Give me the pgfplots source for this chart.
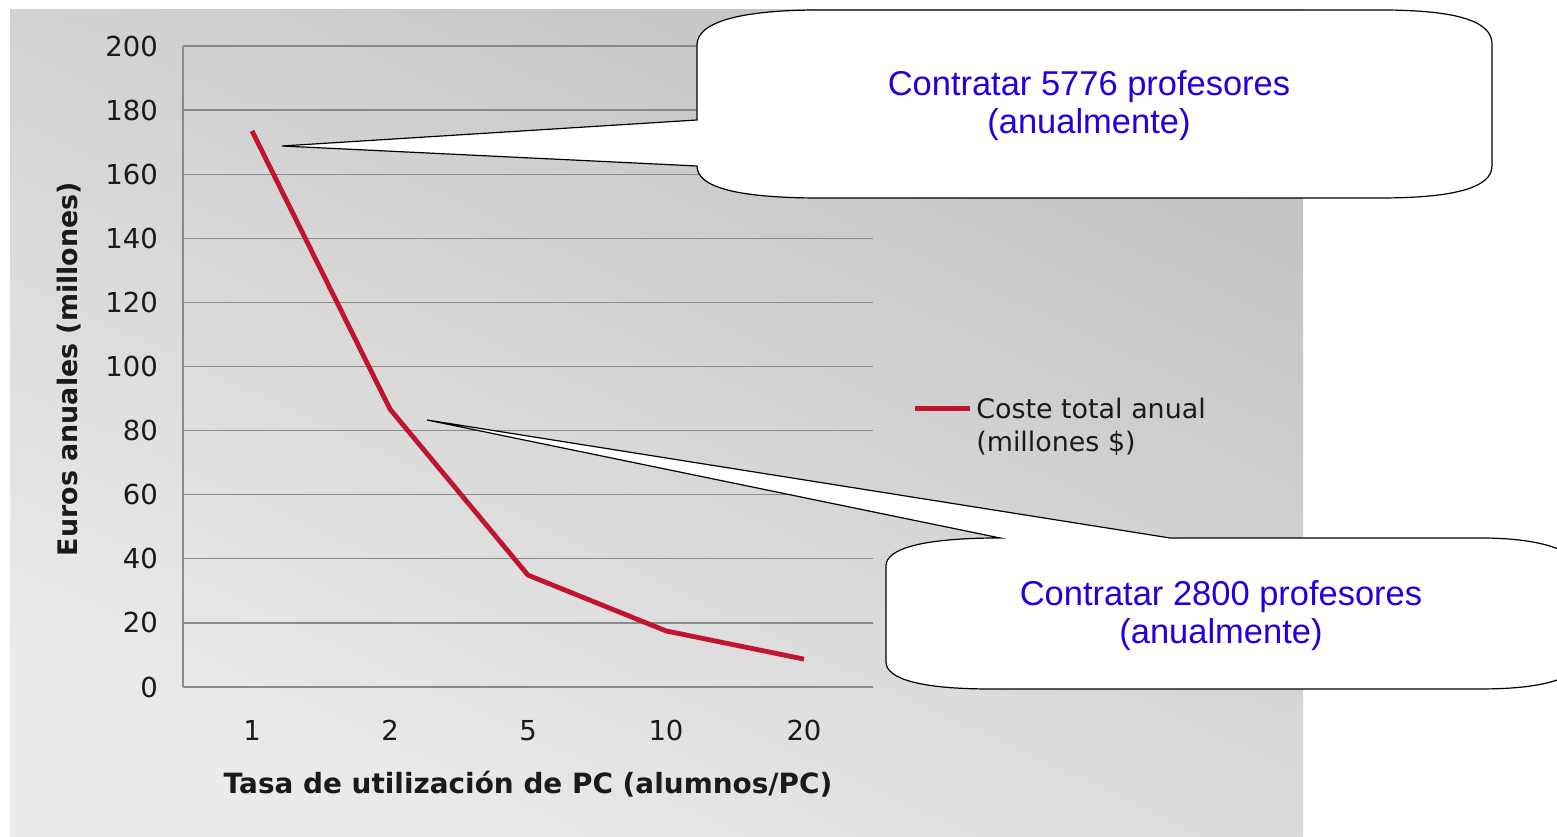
\documentclass[border=0pt]{standalone}
\usepackage{pgfplots}
\pgfplotsset{compat=1.18}
\usepackage{fontspec}
\setmainfont{DejaVu Sans}
\newfontfamily\calloutfont{Liberation Sans}
\definecolor{bgdark}{HTML}{C2C2C2}
\definecolor{bglight}{HTML}{EBEBEB}
\definecolor{linered}{HTML}{C1152E}
\definecolor{gridgray}{HTML}{8A8A8A}
\definecolor{calloutblue}{HTML}{2000E0}
\definecolor{txt}{HTML}{1A1A1A}
\begin{document}
\begin{tikzpicture}
\useasboundingbox (0,0) rectangle (778.5bp,418.5bp);
\clip (0,0) rectangle (778.5bp,418.5bp);
\fill[white] (0,0) rectangle (778.5bp,418.5bp);
\shade[top color=bgdark, bottom color=bglight, shading angle=-25] (5bp,0bp) rectangle (651.5bp,413.5bp);
\begin{axis}[
  at={(91.5bp,75bp)}, anchor=south west,
  scale only axis, width=345bp, height=320.5bp,
  xmin=-0.5, xmax=4.5, ymin=0, ymax=200,
  ytick={0,20,...,200}, xtick={0,1,2,3,4}, xticklabels={1,2,5,10,20},
  axis lines=left, axis line style={-, gridgray, line width=0.65bp},
  ymajorgrids, grid style={gridgray, line width=0.65bp},
  major tick length=0pt, tick style={draw=none},
  ticklabel style={font=\fontsize{13.8}{16}\selectfont, text=txt},
  /pgf/number format/assume math mode=true,
  yticklabel style={xshift=-9bp}, xticklabel style={yshift=-13bp},
  xlabel={Tasa de utilización de PC (alumnos/PC)},
  ylabel={Euros anuales (millones)},
  xlabel style={font=\bfseries\fontsize{14}{16}\selectfont, text=txt, at={(axis description cs:0.5,-0.1513)}, anchor=center},
  ylabel style={font=\bfseries\fontsize{13.5}{16}\selectfont, text=txt, at={(axis description cs:-0.165,0.496)}, anchor=center},
  legend style={draw=none, fill=none, inner sep=0pt, at={(axis description cs:1.0567,0.434)}, anchor=west,
    font=\fontsize{13.5}{16.5}\selectfont, text=txt},
  legend cell align=left,
  legend image code/.code={\draw[#1] (0bp,0bp) -- (27.5bp,0bp);},
  clip=false]
\addplot[linered, line width=2.4bp] coordinates {(0,173.5) (1,86.7) (2,34.9) (3,17.5) (4,8.7)};
\addlegendentry{\begin{tabular}[t]{@{}l@{}}Coste total anual\\(millones \$)\end{tabular}}
\end{axis}
\begin{scope}[x=0.5bp, y=-0.5bp, shift={(0bp,418.5bp)}]
  \draw[black, line width=0.6bp, fill=white]
    (697,120) -- (282,146) -- (697,166)
    .. controls (697,188) and (740,198) .. (820,198) -- (1380,198)
    .. controls (1460,198) and (1492,186) .. (1492,166) -- (1492,44)
    .. controls (1492,22) and (1460,10) .. (1380,10) -- (820,10)
    .. controls (740,10) and (697,22) .. (697,45) -- cycle;
  \node[text=calloutblue, font=\calloutfont\fontsize{17.3}{19}\selectfont, align=center] at (1089,106) {Contratar 5776 profesores\\(anualmente)};
  \draw[black, line width=0.6bp, fill=white]
    (1000,538) -- (427,420) -- (1170,538) -- (1480,538)
    .. controls (1540,538) and (1585,550) .. (1585,580) -- (1585,650)
    .. controls (1585,680) and (1540,689) .. (1480,689) -- (990,689)
    .. controls (925,689) and (886,680) .. (886,662) -- (886,566)
    .. controls (886,548) and (925,538) .. (1000,538) -- cycle;
  \node[text=calloutblue, font=\calloutfont\fontsize{17.3}{19}\selectfont, align=center] at (1221,616) {Contratar 2800 profesores\\(anualmente)};
\end{scope}
\end{tikzpicture}
\end{document}
